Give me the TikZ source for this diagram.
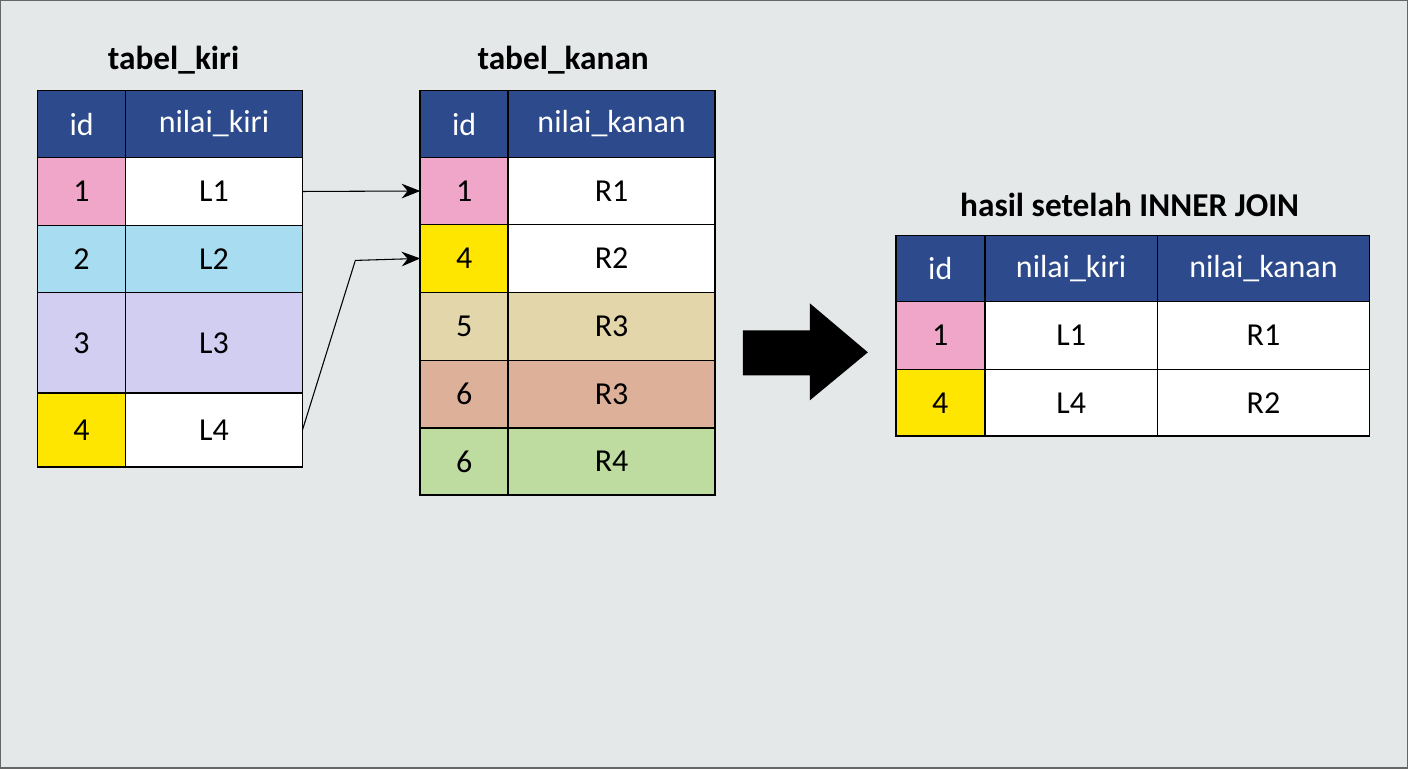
\documentclass[tikz,border=0pt]{standalone}
\usepackage{fontspec}
\setmainfont{Carlito}
\usetikzlibrary{arrows.meta}
\definecolor{bg}{HTML}{E4E8E9}
\definecolor{hdr}{HTML}{2C4A8C}
\definecolor{cpink}{HTML}{F0A6C8}
\definecolor{cblue}{HTML}{A8DCF0}
\definecolor{clav}{HTML}{D2CEF2}
\definecolor{cyel}{HTML}{FFE600}
\definecolor{ctan}{HTML}{E3D6AA}
\definecolor{csal}{HTML}{DDB09A}
\definecolor{cgrn}{HTML}{BEDBA0}
\tikzset{
 cellbox/.style={draw=black, line width=1.2pt, inner sep=0pt, font=\fontsize{24}{28}\selectfont},
 ttl/.style={font=\bfseries\fontsize{25}{30}\selectfont},
 link/.style={-{Stealth[length=14pt,width=11pt]}, line width=0.8pt}
}
% \cell{name}{x1}{y1}{x2}{y2}{fill}{textcolor}{text}
\newcommand{\mycell}[8]{\path[cellbox, fill=#6] (#2,#3) rectangle (#4,#5);
 \node[text=#7, font=\fontsize{24}{28}\selectfont] (#1) at ({(#2+#4)/2},{(#3+#5)/2}) {#8};
 \coordinate (#1-w) at (#2,{(#3+#5)/2}); \coordinate (#1-e) at (#4,{(#3+#5)/2});}
\begin{document}
\begin{tikzpicture}[x=0.75pt,y=-0.75pt]
\path[fill=bg, draw=black!60, line width=1pt] (0,0) rectangle (1408,768);
\node[ttl] (t1) at (173,60) {tabel\_kiri};
\node[ttl] (t2) at (563,60) {tabel\_kanan};
\node[ttl] (t3) at (1130,204) {hasil setelah INNER JOIN};
% left
\mycell{a0}{37}{90}{125}{157}{hdr}{white}{id}
\mycell{b0}{125}{90}{302}{157}{hdr}{white}{nilai\_kiri}
\mycell{a1}{37}{157}{125}{225}{cpink}{black}{1}
\mycell{b1}{125}{157}{302}{225}{white}{black}{L1}
\mycell{a2}{37}{225}{125}{292}{cblue}{black}{2}
\mycell{b2}{125}{225}{302}{292}{cblue}{black}{L2}
\mycell{a3}{37}{292}{125}{393}{clav}{black}{3}
\mycell{b3}{125}{292}{302}{393}{clav}{black}{L3}
\mycell{a4}{37}{393}{125}{467}{cyel}{black}{4}
\mycell{b4}{125}{393}{302}{467}{white}{black}{L4}
% middle
\mycell{c0}{420}{90}{508}{157}{hdr}{white}{id}
\mycell{d0}{508}{90}{715}{157}{hdr}{white}{nilai\_kanan}
\mycell{c1}{420}{157}{508}{224}{cpink}{black}{1}
\mycell{d1}{508}{157}{715}{224}{white}{black}{R1}
\mycell{c2}{420}{224}{508}{292}{cyel}{black}{4}
\mycell{d2}{508}{224}{715}{292}{white}{black}{R2}
\mycell{c3}{420}{292}{508}{360}{ctan}{black}{5}
\mycell{d3}{508}{292}{715}{360}{ctan}{black}{R3}
\mycell{c4}{420}{360}{508}{428}{csal}{black}{6}
\mycell{d4}{508}{360}{715}{428}{csal}{black}{R3}
\mycell{c5}{420}{428}{508}{495}{cgrn}{black}{6}
\mycell{d5}{508}{428}{715}{495}{cgrn}{black}{R4}
% result
\mycell{e0}{896}{235}{985}{301}{hdr}{white}{id}
\mycell{f0}{985}{235}{1158}{301}{hdr}{white}{nilai\_kiri}
\mycell{g0}{1158}{235}{1370}{301}{hdr}{white}{nilai\_kanan}
\mycell{e1}{896}{301}{985}{369}{cpink}{black}{1}
\mycell{f1}{985}{301}{1158}{369}{white}{black}{L1}
\mycell{g1}{1158}{301}{1370}{369}{white}{black}{R1}
\mycell{e2}{896}{369}{985}{436}{cyel}{black}{4}
\mycell{f2}{985}{369}{1158}{436}{white}{black}{L4}
\mycell{g2}{1158}{369}{1370}{436}{white}{black}{R2}
% connectors
\draw[link] (b1-e) -- (c1-w);
\coordinate (k) at (355,260);
\draw[link] (b4-e) -- (k) -- (c2-w);
% big arrow
\fill[black] (743,330) -- (810,330) -- (810,303) -- (868,352) -- (810,400) -- (810,375) -- (743,375) -- cycle;
\end{tikzpicture}
\end{document}
